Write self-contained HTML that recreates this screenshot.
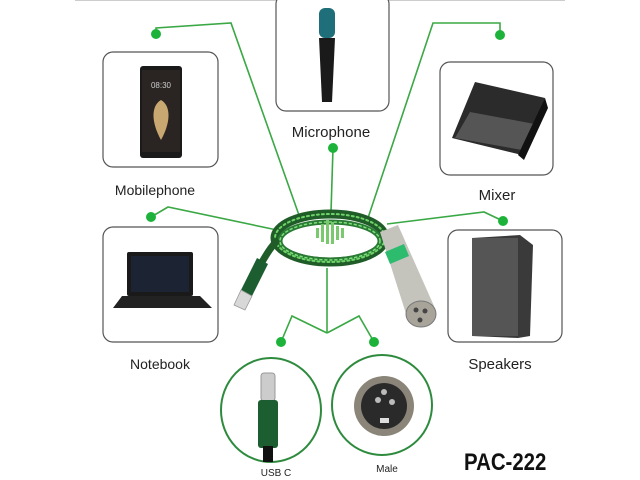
<!DOCTYPE html>
<html><head><style>
html,body{margin:0;padding:0;background:#fff;}
svg{display:block;}
text{font-family:"Liberation Sans",sans-serif;fill:#222;}
</style></head><body>
<svg width="640" height="480" viewBox="0 0 640 480">
<rect width="640" height="480" fill="#fff"/>
<line x1="75" y1="0.5" x2="565" y2="0.5" stroke="#ccc"/>
<g stroke="#3aa844" stroke-width="1.6" fill="none">
<polyline points="156,34 156,28 231,23 300,218"/>
<polyline points="500,35 500,23 433,23 368,218"/>
<line x1="333" y1="148" x2="331" y2="212"/>
<polyline points="151,217 168,207 277,230"/>
<polyline points="503,221 484,212 387,224"/>
<line x1="327" y1="268" x2="327" y2="333"/>
<polyline points="327,333 292,316 281,342"/>
<polyline points="327,333 359,316 374,342"/>
</g>
<g fill="#1db33a">
<circle cx="156" cy="34" r="5"/><circle cx="500" cy="35" r="5"/>
<circle cx="333" cy="148" r="5"/><circle cx="151" cy="217" r="5"/>
<circle cx="503" cy="221" r="5"/><circle cx="281" cy="342" r="5"/>
<circle cx="374" cy="342" r="5"/>
</g>
<g fill="#fff" stroke="#555" stroke-width="1.2">
<rect x="103" y="52" width="115" height="115" rx="10"/>
<rect x="276" y="-6" width="113" height="117" rx="10"/>
<rect x="440" y="62" width="113" height="113" rx="10"/>
<rect x="103" y="227" width="115" height="115" rx="10"/>
<rect x="448" y="230" width="114" height="112" rx="10"/>
</g>
<!-- phone -->
<rect x="140" y="66" width="42" height="92" rx="3" fill="#1a1a1a"/>
<rect x="142" y="70" width="38" height="82" fill="#2a2522"/>
<path d="M161,140 C150,120 152,105 161,100 C170,105 172,120 161,140Z" fill="#c9a770"/>
<text x="161" y="88" font-size="8" text-anchor="middle" style="fill:#ccc">08:30</text>
<!-- mic -->
<rect x="319" y="8" width="16" height="30" rx="6" fill="#1f6f7a"/>
<path d="M319,38 L335,38 L332,102 L322,102Z" fill="#1a1a1a"/>
<!-- mixer -->
<path d="M452,138 L475,82 L545,98 L522,155Z" fill="#2b2b2b"/>
<path d="M455,138 L470,112 L540,125 L522,150Z" fill="#555"/>
<path d="M518,155 L545,98 L548,108 L524,160Z" fill="#111"/>
<!-- laptop -->
<rect x="127" y="252" width="66" height="44" rx="2" fill="#1a1a1a"/>
<rect x="131" y="256" width="58" height="36" fill="#1c2434"/>
<path d="M113,308 L122,296 L200,296 L212,308Z" fill="#222"/>
<!-- speaker -->
<path d="M472,238 L520,235 L533,245 L530,336 L518,338 L472,336Z" fill="#3a3a3a"/>
<rect x="472" y="238" width="46" height="98" fill="#555"/>
<!-- cable coil -->
<g fill="none" stroke-linecap="round">
<ellipse cx="330" cy="238" rx="55" ry="24" stroke="#1f5c28" stroke-width="9"/>
<ellipse cx="330" cy="241" rx="50" ry="19" stroke="#2a7a35" stroke-width="5"/>
<ellipse cx="330" cy="238" rx="55" ry="24" stroke="#6fd36a" stroke-width="2" stroke-dasharray="2 3"/>
<ellipse cx="330" cy="241" rx="50" ry="19" stroke="#7fe07a" stroke-width="1.5" stroke-dasharray="2 3"/>
<path d="M276,242 C268,250 265,258 260,265" stroke="#1f5c28" stroke-width="7"/>
<path d="M384,236 C388,232 392,232 395,238" stroke="#1f5c28" stroke-width="7"/>
</g>
<g fill="#7bc96f">
<rect x="316" y="228" width="3" height="10"/><rect x="321" y="224" width="3" height="18"/><rect x="326" y="220" width="3" height="24"/>
<rect x="331" y="222" width="3" height="22"/><rect x="336" y="226" width="3" height="14"/><rect x="341" y="228" width="3" height="10"/>
</g>
<!-- usb-c connector -->
<path d="M257,258 L268,264 L252,296 L241,290Z" fill="#1c5e30"/>
<path d="M241,290 L252,296 L245,310 L234,305Z" fill="#d8d8d8" stroke="#999" stroke-width="0.8"/>
<!-- xlr -->
<path d="M380,232 L398,225 L434,306 L408,320Z" fill="#c4c4bc"/>
<path d="M385,252 L404,244 L409,256 L390,264Z" fill="#2dbb6e"/>
<ellipse cx="421" cy="314" rx="15" ry="13" fill="#a8a49a" stroke="#777"/>
<circle cx="416" cy="310" r="2.5" fill="#444"/><circle cx="425" cy="311" r="2.5" fill="#444"/><circle cx="420" cy="320" r="2.5" fill="#444"/>
<!-- ellipses -->
<ellipse cx="271" cy="410" rx="50" ry="52" fill="#fff" stroke="#2e8b3e" stroke-width="2"/>
<ellipse cx="382" cy="405" rx="50" ry="50" fill="#fff" stroke="#2e8b3e" stroke-width="2"/>
<rect x="261" y="373" width="14" height="28" rx="3" fill="#ccc" stroke="#999"/>
<rect x="258" y="400" width="20" height="48" rx="3" fill="#1c5e30"/>
<rect x="263" y="446" width="10" height="16" fill="#111"/>
<circle cx="384" cy="406" r="30" fill="#8a8578"/>
<circle cx="384" cy="406" r="23" fill="#2a2a2a"/>
<circle cx="378" cy="400" r="3" fill="#bbb"/><circle cx="392" cy="402" r="3" fill="#bbb"/><circle cx="384" cy="392" r="3" fill="#bbb"/>
<rect x="380" y="418" width="9" height="5" fill="#ddd"/>
<!-- labels -->
<text x="155" y="195" font-size="14" text-anchor="middle">Mobilephone</text>
<text x="331" y="137" font-size="15" text-anchor="middle">Microphone</text>
<text x="497" y="200" font-size="15" text-anchor="middle">Mixer</text>
<text x="160" y="369" font-size="14" text-anchor="middle">Notebook</text>
<text x="500" y="369" font-size="15" text-anchor="middle">Speakers</text>
<text x="276" y="476" font-size="10" text-anchor="middle">USB C</text>
<text x="387" y="472" font-size="10" text-anchor="middle">Male</text>
<text x="0" y="0" font-size="24" font-weight="bold" transform="translate(464,470) scale(0.85,1)" style="fill:#111">PAC-222</text>
</svg>
</body></html>
